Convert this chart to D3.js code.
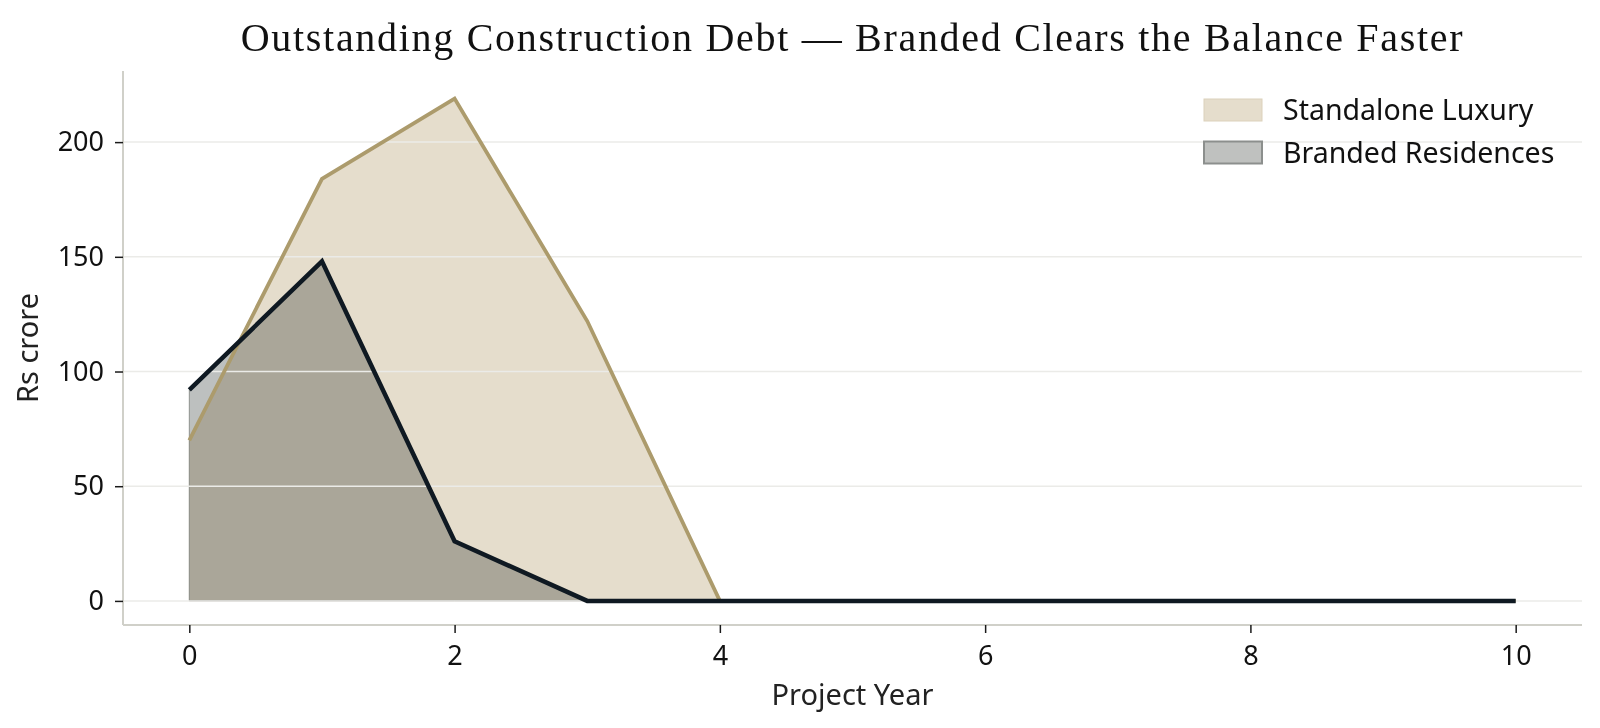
<!DOCTYPE html>
<html>
<head>
<meta charset="utf-8">
<script src="https://cdn.jsdelivr.net/npm/d3@7"></script>
<style>
  body { margin: 0; background: #ffffff; }
  svg { display: block; }
  .tick text { font-family: "Noto Sans", sans-serif; }
</style>
</head>
<body>
<div id="chart"></div>
<script>
// values
const years = [0, 1, 2, 3, 4, 5, 6, 7, 8, 9, 10];
const standaloneDebt = [70, 184, 219, 122, 0, 0, 0, 0, 0, 0, 0];
const brandedDebt = [92, 148, 26, 0, 0, 0, 0, 0, 0, 0, 0];
const xTicks = [0, 2, 4, 6, 8, 10];
const yTicks = [0, 50, 100, 150, 200];
const seriesNames = ["Standalone Luxury", "Branded Residences"];

const W = 1600, H = 728;
const margin = { top: 71, right: 18, bottom: 103, left: 123 };
const width = W - margin.left - margin.right;
const height = H - margin.top - margin.bottom;

const svg = d3.select("#chart").append("svg")
    .attr("width", W)
    .attr("height", H);

const g = svg.append("g")
    .attr("transform", "translate(" + margin.left + "," + margin.top + ")");

const x = d3.scaleLinear().domain([-0.5, 10.5]).range([0, width]);
const y = d3.scaleLinear().domain([-10.5, 231]).range([height, 0]);

const standalone = years.map((yr, i) => ({ year: yr, value: standaloneDebt[i] }));
const branded = years.map((yr, i) => ({ year: yr, value: brandedDebt[i] }));

const area = d3.area()
    .x(d => x(d.year))
    .y0(y(0))
    .y1(d => y(d.value));

const line = d3.line()
    .x(d => x(d.year))
    .y(d => y(d.value));

g.append("path")
    .datum(standalone)
    .attr("d", area)
    .attr("fill", "#e5ddcc")
    .attr("stroke", "#f5f2ea")
    .attr("stroke-width", 1.2);

g.append("path")
    .datum(branded)
    .attr("d", area)
    .attr("fill", "#bdc0bf")
    .attr("stroke", "#8e918e")
    .attr("stroke-width", 1)
    .style("mix-blend-mode", "multiply");

// horizontal grid on top of the fills
g.append("g")
    .selectAll("line")
    .data(yTicks)
    .join("line")
    .attr("x1", 0)
    .attr("x2", width)
    .attr("y1", d => y(d))
    .attr("y2", d => y(d))
    .attr("stroke", "#ebebe8")
    .attr("stroke-width", 1.5);

g.append("path")
    .datum(standalone)
    .attr("d", line)
    .attr("fill", "none")
    .attr("stroke", "#ac9b6c")
    .attr("stroke-width", 3.8)
    .attr("stroke-linejoin", "miter");

g.append("path")
    .datum(branded)
    .attr("d", line)
    .attr("fill", "none")
    .attr("stroke", "#0f1922")
    .attr("stroke-width", 4.5)
    .attr("stroke-linejoin", "miter");

// axes
const xAxis = d3.axisBottom(x).tickValues(xTicks).tickSize(8).tickPadding(13);
const yAxis = d3.axisLeft(y).tickValues(yTicks).tickSize(8).tickPadding(11);

const gx = g.append("g")
    .attr("transform", "translate(0," + height + ")")
    .call(xAxis);
const gy = g.append("g").call(yAxis);

[gx, gy].forEach(a => {
    a.select(".domain").attr("stroke", "#d0d0c9").attr("stroke-width", 2);
    a.selectAll(".tick line").attr("stroke", "#1a1a1a").attr("stroke-width", 1.5);
    a.selectAll(".tick text")
        .attr("fill", "#111")
        .style("font-size", "27px");
});
gx.select(".domain").attr("d", "M0,0H" + width);
gy.select(".domain").attr("d", "M0," + height + "V0");

// axis labels
g.append("text")
    .attr("x", width / 2)
    .attr("y", height + 80)
    .attr("text-anchor", "middle")
    .style("font-family", "Noto Sans, sans-serif")
    .style("font-size", "29px")
    .attr("fill", "#222")
    .text("Project Year");

g.append("text")
    .attr("transform", "translate(" + (-85) + "," + (height / 2) + ") rotate(-90)")
    .attr("text-anchor", "middle")
    .style("font-family", "Noto Sans, sans-serif")
    .style("font-size", "29px")
    .attr("fill", "#222")
    .text("Rs crore");

// title
svg.append("text")
    .attr("x", margin.left + width / 2)
    .attr("y", 51)
    .attr("text-anchor", "middle")
    .style("font-family", "Liberation Serif, serif")
    .style("font-size", "40px")
    .style("letter-spacing", "1.7px")
    .attr("fill", "#111")
    .text("Outstanding Construction Debt \u2014 Branded Clears the Balance Faster");

// legend
const legendFill = ["#e5ddcc", "#bfc1bf"];
const legendEdge = ["#dcd1bb", "#8c8f8d"];
const legend = svg.append("g")
    .attr("transform", "translate(1204,99)");

const item = legend.selectAll("g")
    .data(seriesNames)
    .join("g")
    .attr("transform", (d, i) => "translate(0," + i * 42.5 + ")");

item.append("rect")
    .attr("width", 58)
    .attr("height", 22)
    .attr("fill", (d, i) => legendFill[i])
    .attr("stroke", (d, i) => legendEdge[i])
    .attr("stroke-width", (d, i) => i === 0 ? 1 : 2);

item.append("text")
    .attr("x", 79)
    .attr("y", 21)
    .style("font-family", "Noto Sans, sans-serif")
    .style("font-size", "28.5px")
    .attr("fill", "#111")
    .text(d => d);
</script>
</body>
</html>
